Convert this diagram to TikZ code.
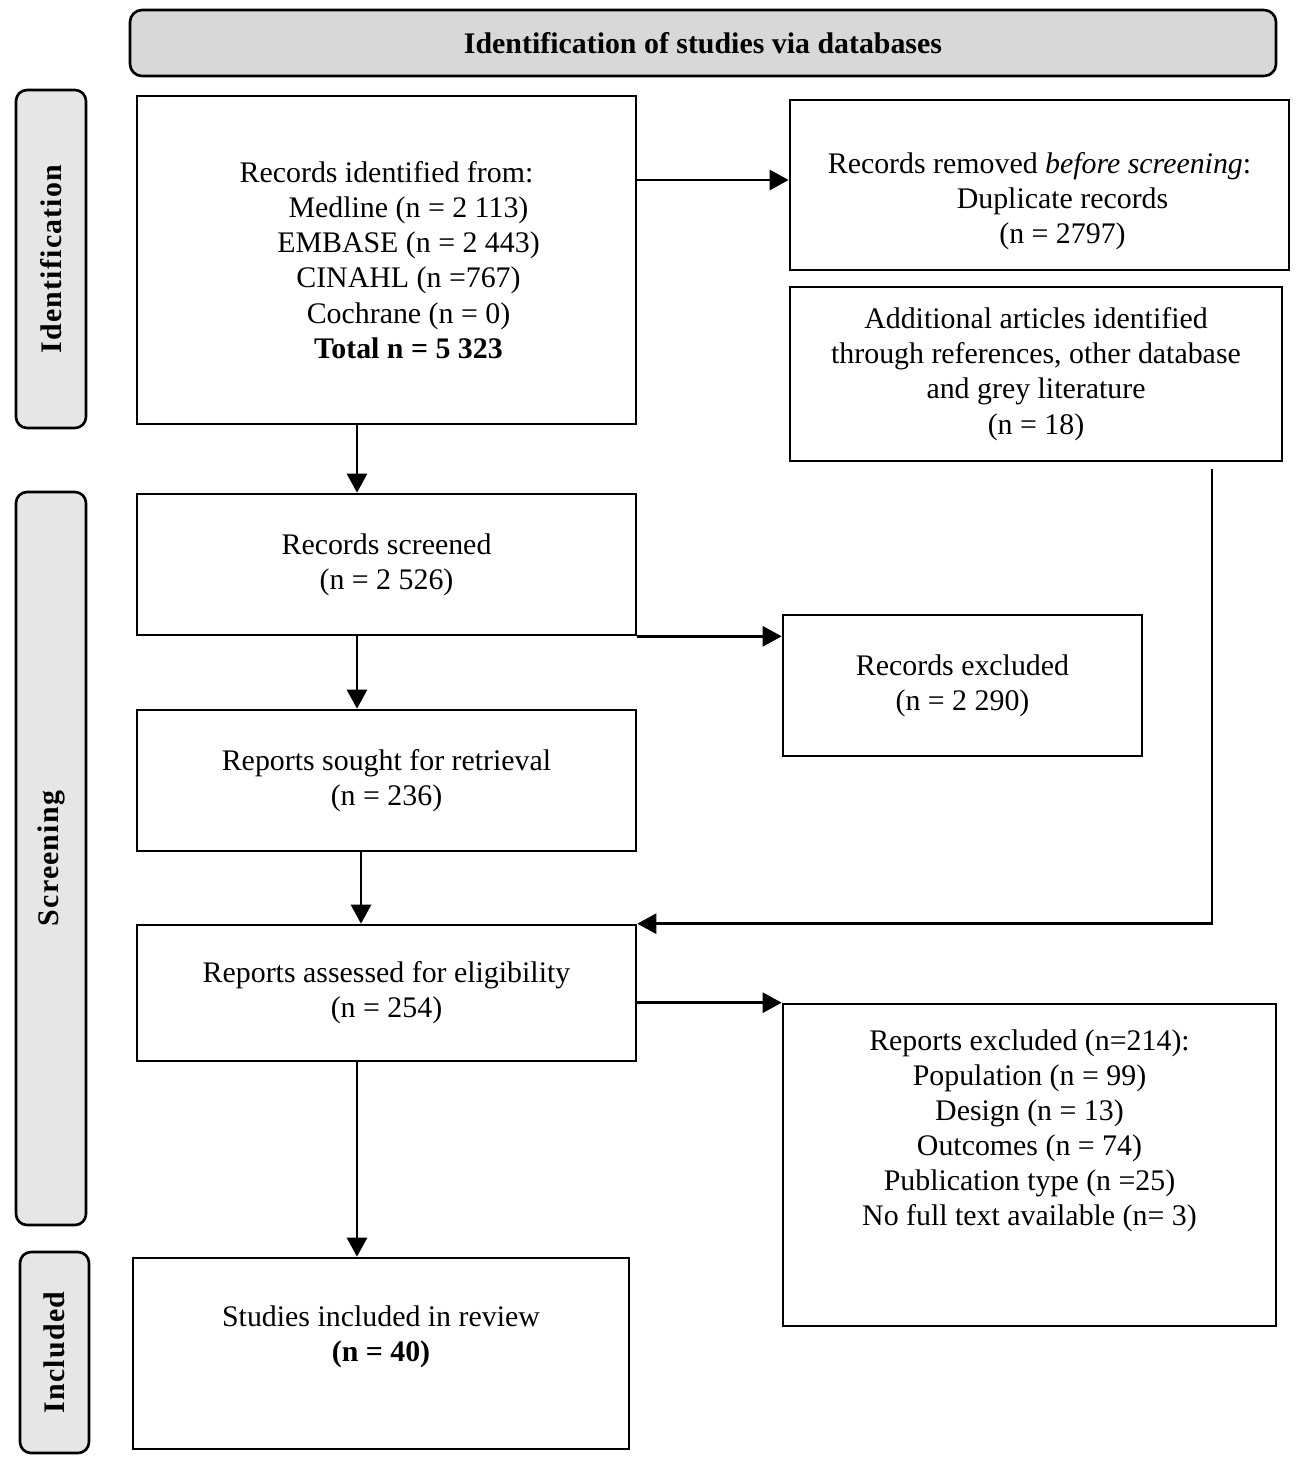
\documentclass[tikz,border=0pt]{standalone}
\usepackage{fontspec}
\setmainfont{Liberation Serif}
\usetikzlibrary{arrows.meta}

\definecolor{headgray}{RGB}{216,216,216}
\definecolor{bandgray}{RGB}{230,230,230}

% struts that push the text up or down inside a box
\newcommand{\lowpad}[1]{\rule[-#1]{0pt}{#1}}
\newcommand{\toppad}[1]{\rule{0pt}{#1}}

\begin{document}
\begin{tikzpicture}[
    box/.style={draw, line width=1.5pt, align=center, inner sep=0pt,
        font=\fontsize{17}{20}\selectfont},
    band/.style={draw, line width=1.5pt, rounded corners=0.22cm, fill=bandgray,
        rotate=90, inner sep=0pt,
        font=\fontsize{17}{20}\selectfont\bfseries\addfontfeature{LetterSpace=4}},
    arr/.style={-{Triangle[length=0.38cm, width=0.4cm]}, line width=1.5pt}
  ]
    \useasboundingbox (0, 0) rectangle (25.98, -29.38);

    % header and phase bands
    \node[draw, line width=1.5pt, rounded corners=0.24cm, fill=headgray,
        minimum width=22.92cm, minimum height=1.32cm,
        font=\fontsize{17}{20}\selectfont\bfseries] (head) at (14.06, -0.86)
        {Identification of studies via databases};

    \node[band, minimum width=6.76cm, minimum height=1.4cm] (bandI) at (1.02, -5.18) {Identification};
    \node[band, minimum width=14.66cm, minimum height=1.4cm] (bandS) at (1.02, -17.17) {Screening};
    \node[band, minimum width=4.02cm, minimum height=1.38cm] (bandN) at (1.09, -27.05) {Included};

    % boxes
    \node[box, minimum width=9.98cm, minimum height=6.56cm] (ident) at (7.73, -5.2)
        {Records identified from:\\
         \hspace*{0.88cm}Medline (n = 2~113)\\
         \hspace*{0.88cm}EMBASE (n = 2~443)\\
         \hspace*{0.88cm}CINAHL (n =767)\\
         \hspace*{0.88cm}Cochrane (n = 0)\\
         \hspace*{0.88cm}\textbf{Total n = 5~323}};

    \node[box, minimum width=9.98cm, minimum height=3.4cm] (removed) at (20.79, -3.7)
        {\toppad{1.07cm}Records removed \emph{before screening}:\\
         \hspace*{0.92cm}Duplicate records\\
         \hspace*{0.92cm}(n = 2797)};

    \node[box, minimum width=9.84cm, minimum height=3.48cm] (additional) at (20.72, -7.48)
        {Additional articles identified\\
         through references, other database\\
         and grey literature\\
         (n = 18)};

    \node[box, minimum width=9.98cm, minimum height=2.82cm] (screened) at (7.73, -11.29)
        {Records screened\\(n = 2~526)};

    \node[box, minimum width=7.18cm, minimum height=2.82cm] (excluded) at (19.25, -13.71)
        {Records excluded\\(n = 2~290)};

    \node[box, minimum width=9.98cm, minimum height=2.82cm] (sought) at (7.73, -15.61)
        {Reports sought for retrieval\\(n = 236)};

    \node[box, minimum width=9.98cm, minimum height=2.72cm] (assessed) at (7.73, -19.86)
        {Reports assessed for eligibility\\(n = 254)};

    \node[box, minimum width=9.86cm, minimum height=6.44cm] (repexcl) at (20.59, -23.3)
        {Reports excluded (n=214):\\
         Population (n = 99)\\
         Design (n = 13)\\
         Outcomes (n = 74)\\
         Publication type (n =25)\\
         No full text available (n= 3)\lowpad{1.49cm}};

    \node[box, minimum width=9.92cm, minimum height=3.82cm] (included) at (7.62, -27.07)
        {Studies included in review\\\textbf{(n = 40)}\lowpad{0.81cm}};

    % arrows
    \coordinate (dup) at ([yshift=1.6cm]ident.east);
    \draw[arr] (dup) -- (dup -| removed.west);

    \draw[arr] ([xshift=-0.59cm]ident.south) coordinate (a1) -- (a1 |- screened.north);
    \draw[arr] ([xshift=-0.59cm]screened.south) coordinate (a2) -- (a2 |- sought.north);
    \draw[arr] ([xshift=-0.51cm]sought.south) coordinate (a3) -- (a3 |- assessed.north);
    \draw[arr] ([xshift=-0.59cm]assessed.south) coordinate (a4) -- (a4 |- included.north);

    \draw[arr] (screened.south east) -- (screened.south east -| excluded.west);
    \draw[arr] (repexcl.north west -| assessed.east) -- (repexcl.north west);
    \draw[arr] ([xshift=3.52cm, yshift=-0.14cm]additional.south) |- (assessed.north east);
\end{tikzpicture}
\end{document}
